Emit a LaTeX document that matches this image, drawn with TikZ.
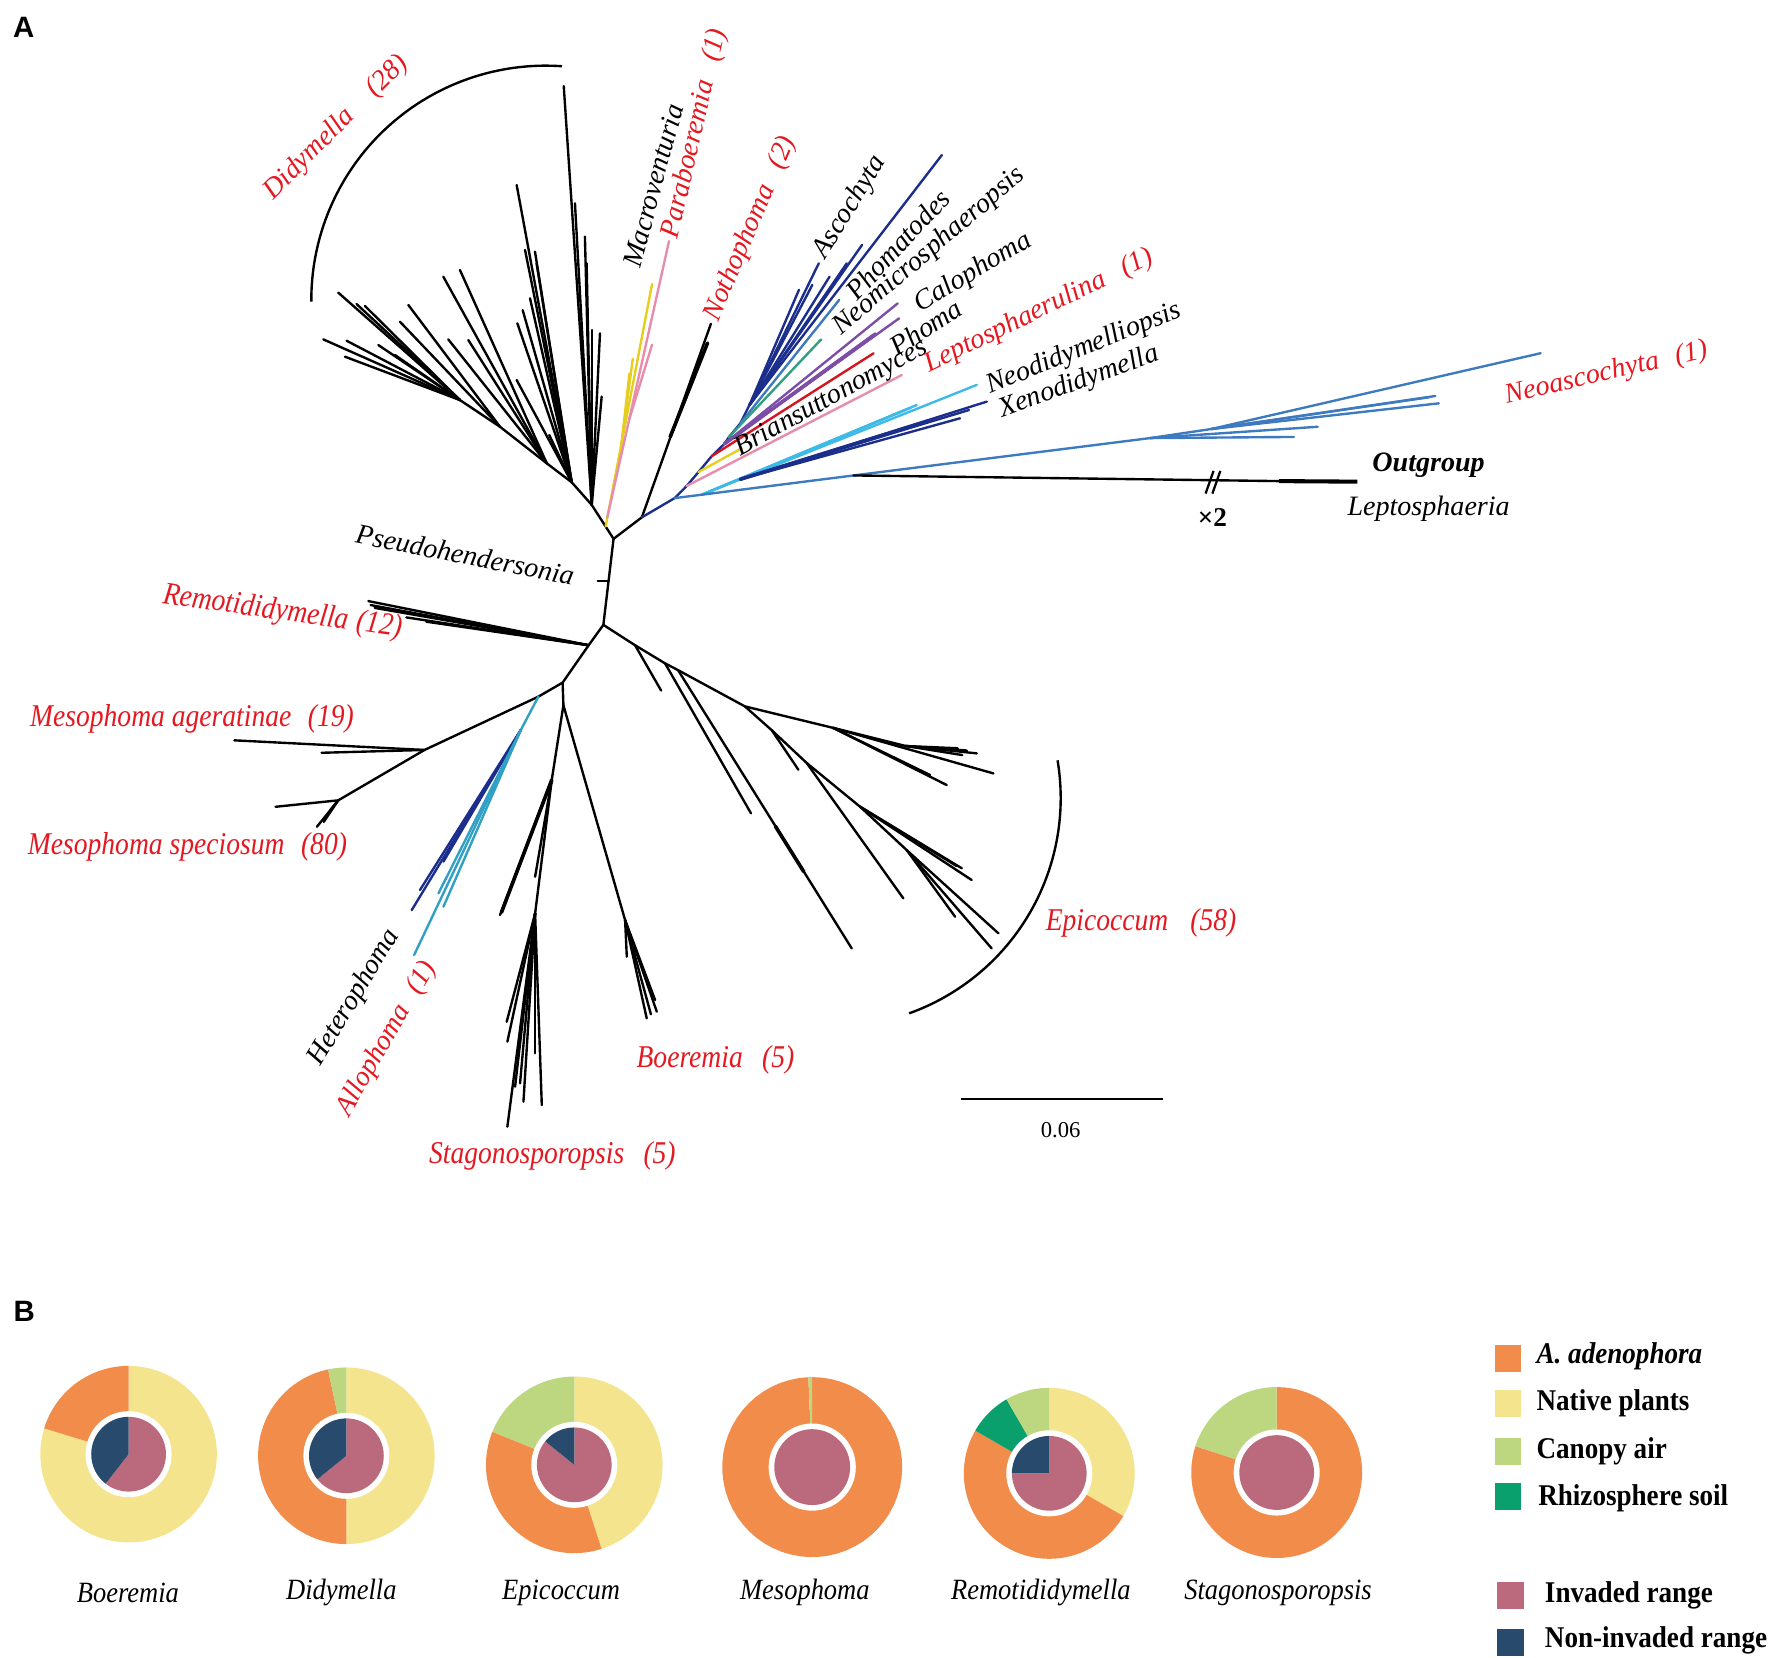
\documentclass[tikz,border=0pt]{standalone}
\usepackage{fontspec}
\setmainfont{Liberation Serif}
\setsansfont{Liberation Sans}
\definecolor{tred}{RGB}{228,24,32}
\definecolor{navy}{RGB}{28,46,140}
\definecolor{steel}{RGB}{62,122,192}
\definecolor{cyanb}{RGB}{62,186,230}
\definecolor{tealb}{RGB}{48,160,196}
\definecolor{greenb}{RGB}{50,158,128}
\definecolor{purp}{RGB}{125,78,168}
\definecolor{yel}{RGB}{230,206,30}
\definecolor{pinkb}{RGB}{232,140,172}
\definecolor{redl}{RGB}{214,20,32}
\definecolor{pOr}{RGB}{242,140,74}
\definecolor{pYe}{RGB}{245,228,142}
\definecolor{pCa}{RGB}{188,215,128}
\definecolor{pRh}{RGB}{10,160,110}
\definecolor{pIn}{RGB}{186,106,124}
\definecolor{pNi}{RGB}{40,74,108}
\newcommand\cnd[1]{\scalebox{0.87}[1]{#1}}
\newcommand\cnb[1]{\scalebox{0.9}[1]{#1}}
\newcommand\piesec[6]{\fill[#6] (#1,#2) -- plot[domain=#4:#5,samples=60,variable=\t] ({#1+#3*sin(\t)},{#2-#3*cos(\t)}) -- cycle;}
\tikzset{
  br/.style={line width=1.05pt, line cap=round},
  thk/.style={line width=1.6pt, line cap=round},
  lab/.style={font=\fontsize{12.4}{14}\selectfont\itshape, inner sep=0pt},
  rlab/.style={lab, text=tred},
  clab/.style={font=\fontsize{14}{16}\selectfont\itshape, text=tred, inner sep=0pt},
  plab/.style={font=\fontsize{13}{15}\selectfont\itshape, inner sep=0pt},
  leg/.style={font=\fontsize{13.3}{15}\selectfont\bfseries, inner sep=0pt, anchor=west},
  sq/.style={minimum width=11.8pt, minimum height=11.8pt, inner sep=0pt, draw=none},
}
\begin{document}
\begin{tikzpicture}[x=0.5pt,y=-0.5pt]
\useasboundingbox (0,0) rectangle (1568,1464.6);
\fill[white] (0,0) rectangle (1568,1464.6);

% panel letters
\node[font=\sffamily\bfseries\fontsize{13}{15}\selectfont] (pA) at (21,24) {A};
\node[font=\sffamily\bfseries\fontsize{13}{15}\selectfont] (pB) at (21.5,1158) {B};

% ---------------- tree: internal nodes
\coordinate (J1) at (542,476);
\coordinate (J2) at (533,552);
\coordinate (BD) at (522.7,446);
\coordinate (D1) at (505,426);
\coordinate (D2) at (483,409.3);
\coordinate (D3) at (441.7,377);
\coordinate (D4) at (406.3,353.4);
\coordinate (MY) at (535,465);
\coordinate (Y1) at (536.5,457);
\coordinate (Y2) at (549,392);
\coordinate (Pk2) at (556,370);
\coordinate (NB) at (567,457);
\coordinate (N1) at (592,386);
\coordinate (BB) at (596,440);
\coordinate (P1) at (606.6,429.3);
\coordinate (P2) at (617,417);
\coordinate (P3) at (628.7,403);
\coordinate (P4) at (640,392);
\coordinate (P5) at (644,386);
\coordinate (P6) at (654,374);
\coordinate (P7) at (662,358);
\coordinate (CB) at (620,437);
\coordinate (XB) at (654,423.4);
\coordinate (OG0) at (754,420);
\coordinate (NA1) at (1016,387);
\coordinate (NA2) at (1070,379);
\coordinate (OGb) at (1130,425);
\coordinate (OGt) at (1199,425.5);
\coordinate (RB) at (520,570);
\coordinate (J3) at (497,603);
\coordinate (BL) at (475.6,615.4);
\coordinate (HB) at (460,645);
\coordinate (MA) at (375,662.5);
\coordinate (MS) at (298.8,707);
\coordinate (J4) at (497.7,623);
\coordinate (ST1) at (487.4,689);
\coordinate (ST2) at (472.7,807);
\coordinate (BO1) at (552.2,812.8);
\coordinate (E1) at (561,570);
\coordinate (E2) at (587.5,586);
\coordinate (E2b) at (599,592);
\coordinate (E3) at (658,624);
\coordinate (E4) at (736,643);
\coordinate (E4b) at (800,659);
\coordinate (E5) at (681.7,645);
\coordinate (E6) at (712.6,674);
\coordinate (E7) at (759.7,712.6);
\coordinate (E8) at (801,751);

% trunk
\draw[br] (J1) -- (J2);
\draw[br] (J1) -- (BD);
\draw[br] (J1) -- (NB);
\draw[br] (528,513) -- (537.5,513);

% Didymella
\draw[br] (BD) -- (D1) -- (D2) -- (D3) -- (D4);
\foreach \x/\y in {498/76,507.9/179.6,516.7/209,518.2/232.6,522.7/291.5,530/294.5,531.5/350.4}
  \draw[br] (BD) -- (\x,\y);
\foreach \x/\y in {456.4/163.4,463.8/220.8,472.6/222.3,474/232.6,468.2/263.5,461.7/273.9,457/285.6,456.4/335.7,485.2/384.3}
  \draw[br] (D1) -- (\x,\y);
\foreach \x/\y in {406.3/238.5,391.6/244.4,413.7/300.4,396/299.8}
  \draw[br] (D2) -- (\x,\y);
\foreach \x/\y in {360.7/269.4,353.3/284.2}
  \draw[br] (D3) -- (\x,\y);
\foreach \x/\y in {298.8/258.5,315/268.6,322.4/270.3,285.6/299.8,306.2/301,304.7/315.1,334.2/304.8,348.9/313.6}
  \draw[br] (D4) -- (\x,\y);
\draw[line width=1.05pt] plot[domain=179.6:274,samples=80,variable=\t] ({482+207*cos(\t)},{265+207*sin(\t)});

% Macroventuria / Paraboeremia
\draw[br,yel] (MY) -- (576,251);
\foreach \x/\y in {559/317,556/330} \draw[br,yel] (Y2) -- (\x,\y);
\draw[br,pinkb] (Y1) -- (591,213);
\draw[br,pinkb] (Pk2) -- (576,304.5);

% Nothophoma
\draw[br] (NB) -- (628,286);
\draw[thk] (N1) -- (625,303);
\draw[br] (N1) -- (622,311);

% blue clade
\draw[br,navy] (NB) -- (BB) -- (P1) -- (P2) -- (P3) -- (P4) -- (P5) -- (P6) -- (P7) -- (832,137);
\foreach \x/\y in {723.3/232.6,717.6/251.7,705.8/256,732.8/244.4,761.5/216.4,748/232.6}
  \draw[br,navy] (P7) -- (\x,\y);
\draw[br,steel] (P6) -- (741.3,265);
\draw[br,greenb] (P5) -- (725.4,299.8);
\foreach \x/\y in {793/268,794.3/281.2,773.4/294.5,770/298} \draw[br,purp] (P4) -- (\x,\y);
\draw[thk,purp] (P4) -- (772,296);
\draw[br,redl] (P3) -- (771.7,312.1);
\draw[br,yel] (P2) -- (655.2,396);
\draw[br,pinkb] (P1) -- (796.6,331.3);
\draw[br,cyanb] (CB) -- (862.9,340);
\foreach \x/\y in {809.8/357.8,805/360,800/362} \draw[br,cyanb] (CB) -- (\x,\y);
\foreach \x/\y in {871.7/354.8,856/362.2,848.1/369.5} \draw[br,navy] (XB) -- (\x,\y);
\draw[thk,navy] (XB) -- (820,372);
\draw[br,steel] (BB) -- (CB) -- (OG0) -- (NA1);
\foreach \x/\y in {1143/386,1164/377} \draw[br,steel] (NA1) -- (\x,\y);
\draw[br,steel] (NA1) -- (NA2);
\foreach \x/\y in {1361/312,1268/349.8,1271/356.3,1262/351} \draw[br,steel] (NA2) -- (\x,\y);

% outgroup
\draw[br] (OG0) -- (OGb);
\draw[line width=1.8pt] (OGb) -- (OGt);
\draw[line width=1pt] (1065,436) -- (1072,416);
\draw[line width=1pt] (1071,436) -- (1078,416);

% Remotididymella
\draw[br] (J2) -- (RB) -- (J3);
\foreach \x/\y in {325.4/531,327.4/534.5,331/537,359/545.4,376.6/549.2}
  \draw[br] (RB) -- (\x,\y);

% Mesophoma
\draw[br] (J3) -- (BL) -- (MA) -- (MS);
\foreach \x/\y in {207/654,284/665} \draw[br] (MA) -- (\x,\y);
\foreach \x/\y in {243.4/712.7,280/730.3,291.8/715.6,286/726} \draw[br] (MS) -- (\x,\y);

% Heterophoma / Allophoma
\draw[br,tealb] (BL) -- (HB);
\foreach \x/\y in {363.7/804,371/786.2,391.7/761.2} \draw[br,navy] (HB) -- (\x,\y);
\foreach \x/\y in {365.8/843.7,387.3/789.2,391.7/801} \draw[br,tealb] (HB) -- (\x,\y);

% Stagonosporopsis
\draw[br] (J3) -- (J4) -- (ST1) -- (ST2);
\foreach \x/\y in {441.7/808.3,444/803,446/798} \draw[br] (ST1) -- (\x,\y);
\draw[thk] (ST1) -- (443,806);
\draw[br] (ST1) -- (472.7,774.5);
\foreach \x/\y in {448.2/995.3,478.6/976.2,462.4/973.2,459.4/957,448.2/920.2,447.6/902.6,472.7/930.5,455/960}
  \draw[br] (ST2) -- (\x,\y);

% Boeremia
\draw[br] (J4) -- (BO1);
\foreach \x/\y in {571.3/899.6,580.2/893.7,578.7/883.4,553.7/845.1,575/896}
  \draw[br] (BO1) -- (\x,\y);

% Epicoccum
\draw[br] (J2) -- (E1) -- (E2) -- (E2b) -- (E3) -- (E4);
\draw[br] (E1) -- (584,610);
\draw[br] (E2) -- (663.4,718.5);
\draw[br] (E2b) -- (752.4,837.8);
\draw[thk] (685,730) -- (710,770);
\draw[br] (E4) -- (E4b);
\foreach \x/\y in {862.8/665.5,854/663,846/661,850/667} \draw[br] (E4b) -- (\x,\y);
\foreach \x/\y in {877.5/683.2,836.3/693.5,821.6/684.6} \draw[br] (E4) -- (\x,\y);
\draw[br] (E3) -- (E5) -- (E6) -- (E7) -- (E8);
\draw[br] (E5) -- (705.3,680);
\draw[br] (E6) -- (798,793.6);
\foreach \x/\y in {849.6/767,858.4/777.4,845/765} \draw[br] (E7) -- (\x,\y);
\foreach \x/\y in {882/824.5,876/837.8,843.7/809.8} \draw[br] (E8) -- (\x,\y);
\draw[line width=1.05pt] plot[domain=-9.5:70.3,samples=80,variable=\t] ({735+202*cos(\t)},{705+202*sin(\t)});

% scale bar
\coordinate (sb1) at (849,971);
\coordinate (sb2) at (1027,971);
\draw[line width=1pt] (sb1) -- (sb2);
\node[font=\fontsize{10}{12}\selectfont, inner sep=0pt] (sbl) at (937,998) {0.06};

% ---------------- tree labels
\node[rlab, rotate=45] (lDid) at (297,113) {Didymella\hspace{1em}(28)};
\node[lab, rotate=75] (lMac) at (577,164) {Macroventuria};
\node[rlab, rotate=77] (lPar) at (614,118) {Paraboeremia\hspace{0.7em}(1)};
\node[rlab, rotate=67] (lNot) at (663,202) {Nothophoma\hspace{0.7em}(2)};
\node[lab, rotate=58.5] (lAsc) at (751,183) {Ascochyta};
\node[lab, rotate=47] (lPhd) at (793,216) {Phomatodes};
\node[lab, rotate=40.5] (lNeo) at (821,222) {Neomicrosphaeropsis};
\node[lab, rotate=31] (lCal) at (860,241) {Calophoma};
\node[lab, rotate=33] (lPho) at (818,289) {Phoma};
\node[lab, rotate=29] (lBri) at (734.5,352) {Briansuttonomyces};
\node[rlab, rotate=26] (lLep) at (918,275) {Leptosphaerulina\hspace{0.7em}(1)};
\node[lab, rotate=22] (lNdm) at (957.5,308) {Neodidymelliopsis};
\node[lab, rotate=20] (lXen) at (953,338) {Xenodidymella};
\node[rlab, rotate=13] (lNas) at (1419,330) {Neoascochyta\hspace{0.6em}(1)};
\node[lab, font=\fontsize{12.4}{14}\selectfont\bfseries\itshape] (lOut) at (1262,411) {Outgroup};
\node[lab] (lLsp) at (1262,449) {Leptosphaeria};
\node[font=\fontsize{12}{14}\selectfont\bfseries, inner sep=0pt] (lx2) at (1071,457) {×2};
\node[lab, rotate=-11] (lPse) at (411,490) {Pseudohendersonia};
\node[clab, rotate=-8] (lRem) at (249.5,541) {\cnd{Remotididymella\hspace{0.3em}(12)}};
\node[clab] (lMag) at (169.6,634.6) {\cnd{Mesophoma ageratinae\hspace{0.6em}(19)}};
\node[clab] (lMsp) at (165.6,748) {\cnd{Mesophoma speciosum\hspace{0.6em}(80)}};
\node[lab, rotate=59] (lHet) at (313,881) {Heterophoma};
\node[rlab, rotate=60] (lAll) at (341.6,917.7) {Allophoma\hspace{0.6em}(1)};
\node[clab] (lBoe) at (632,936) {\cnd{Boeremia\hspace{0.7em}(5)}};
\node[clab] (lSta) at (488,1021) {\cnd{Stagonosporopsis\hspace{0.7em}(5)}};
\node[clab] (lEpi) at (1008,815) {\cnd{Epicoccum\hspace{0.8em}(58)}};

% ---------------- panel B pies
% Boeremia
\coordinate (cBoe) at (113.6,1284.6);
\piesec{113.6}{1284.6}{78}{0}{287}{pYe}
\piesec{113.6}{1284.6}{78}{287}{360}{pOr}
\fill[white] (cBoe) circle (38);
\piesec{113.6}{1284.6}{33}{0}{218}{pIn}
\piesec{113.6}{1284.6}{33}{218}{360}{pNi}
% Didymella
\coordinate (cDid) at (306,1286);
\piesec{306}{1286}{78}{0}{180}{pYe}
\piesec{306}{1286}{78}{180}{348}{pOr}
\piesec{306}{1286}{78}{348}{360}{pCa}
\fill[white] (cDid) circle (38);
\piesec{306}{1286}{33}{0}{231}{pIn}
\piesec{306}{1286}{33}{231}{360}{pNi}
% Epicoccum
\coordinate (cEpi) at (507.3,1294);
\piesec{507.3}{1294}{78}{0}{162}{pYe}
\piesec{507.3}{1294}{78}{162}{292}{pOr}
\piesec{507.3}{1294}{78}{292}{360}{pCa}
\fill[white] (cEpi) circle (38);
\piesec{507.3}{1294}{33}{0}{309}{pIn}
\piesec{507.3}{1294}{33}{309}{360}{pNi}
% Mesophoma
\coordinate (cMes) at (717.5,1296);
\piesec{717.5}{1296}{79.5}{0}{357.5}{pOr}
\piesec{717.5}{1296}{79.5}{357.5}{360}{pCa}
\fill[white] (cMes) circle (38.5);
\fill[pIn] (cMes) circle (33.5);
% Remotididymella
\coordinate (cRem) at (926.9,1301.5);
\piesec{926.9}{1301.5}{75.5}{0}{120}{pYe}
\piesec{926.9}{1301.5}{75.5}{120}{300}{pOr}
\piesec{926.9}{1301.5}{75.5}{300}{330}{pRh}
\piesec{926.9}{1301.5}{75.5}{330}{360}{pCa}
\fill[white] (cRem) circle (38);
\piesec{926.9}{1301.5}{33}{0}{270}{pIn}
\piesec{926.9}{1301.5}{33}{270}{360}{pNi}
% Stagonosporopsis
\coordinate (cSta) at (1127.8,1300.8);
\piesec{1127.8}{1300.8}{75.5}{0}{288}{pOr}
\piesec{1127.8}{1300.8}{75.5}{288}{360}{pCa}
\fill[white] (cSta) circle (38);
\fill[pIn] (cSta) circle (33);

% pie labels
\node[plab] (bBoe) at (113,1407) {\cnb{Boeremia}};
\node[plab] (bDid) at (301.6,1407) {\cnb{Didymella}};
\node[plab] (bEpi) at (495.6,1407) {\cnb{Epicoccum}};
\node[plab] (bMes) at (711,1407) {\cnb{Mesophoma}};
\node[plab] (bRem) at (919.5,1407) {\cnb{Remotididymella}};
\node[plab] (bSta) at (1129,1407) {\cnb{Stagonosporopsis}};

% legend
\node[sq, fill=pOr] (k1) at (1332,1200) {};
\node[sq, fill=pYe] (k2) at (1332,1239.7) {};
\node[sq, fill=pCa] (k3) at (1332,1282.4) {};
\node[sq, fill=pRh] (k4) at (1332,1322) {};
\node[sq, fill=pIn] (k5) at (1334.3,1409.5) {};
\node[sq, fill=pNi] (k6) at (1334.3,1450.8) {};
\node[leg] (t1) at (1357,1198.4) {\cnb{\itshape A. adenophora}};
\node[leg] (t2) at (1357,1239.7) {\cnb{Native plants}};
\node[leg] (t3) at (1357,1282.4) {\cnb{Canopy air}};
\node[leg] (t4) at (1358.5,1323.6) {\cnb{Rhizosphere soil}};
\node[leg] (t5) at (1364.4,1409) {\cnb{Invaded range}};
\node[leg] (t6) at (1364.4,1448.8) {\cnb{Non-invaded range}};
\end{tikzpicture}
\end{document}
